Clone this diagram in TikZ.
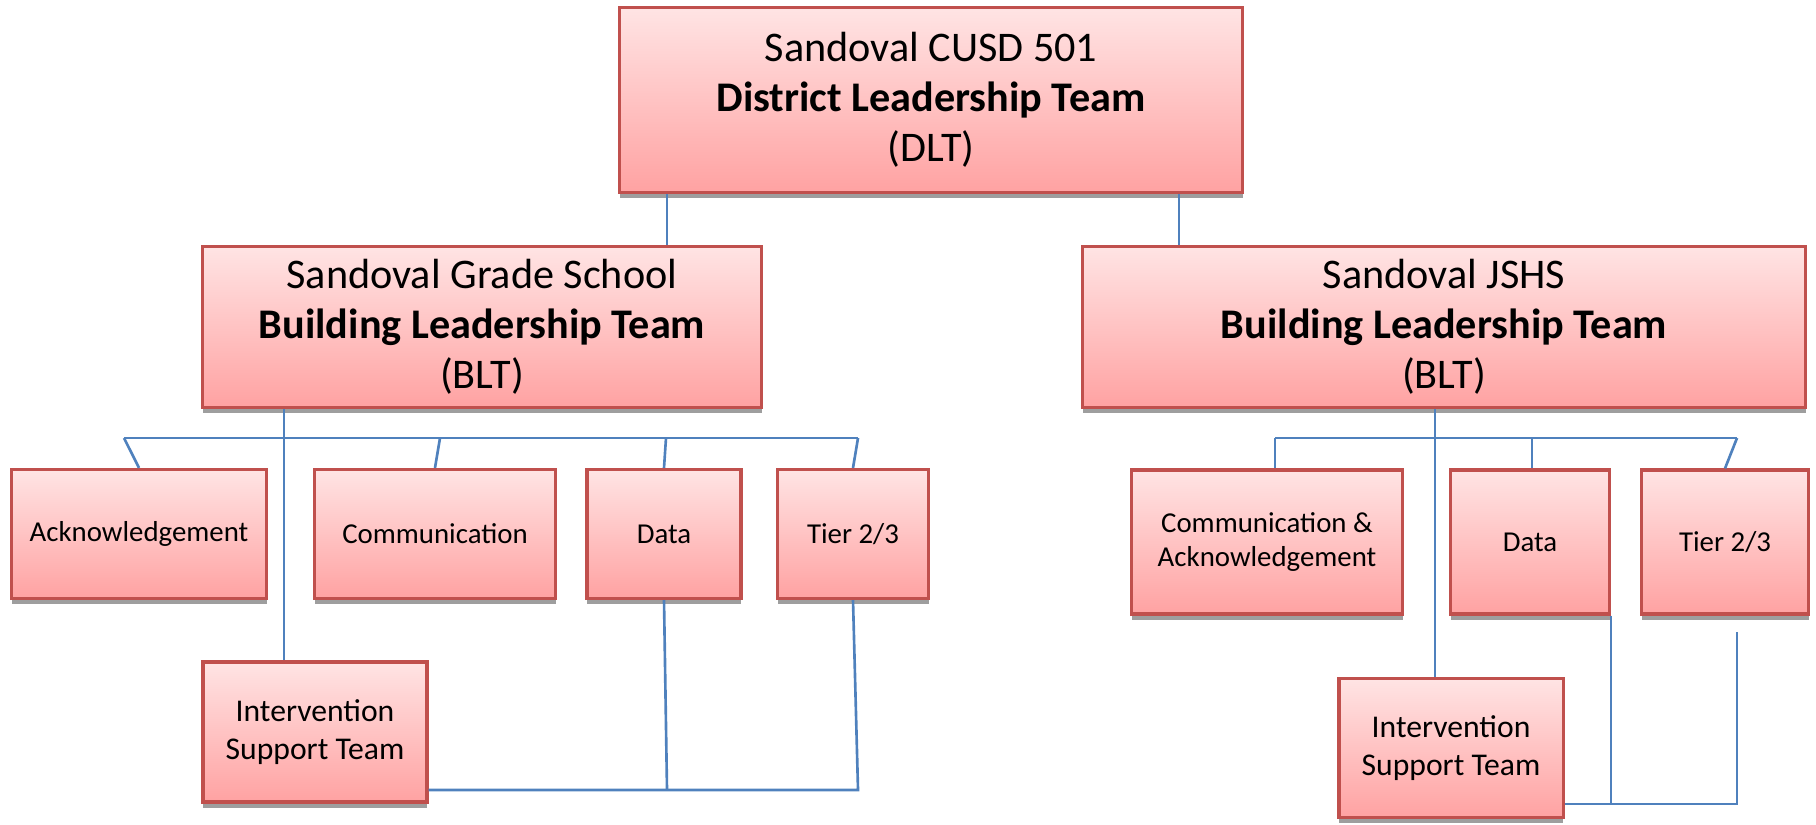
\documentclass[tikz,border=0pt]{standalone}
\usepackage{fontspec}
\setmainfont{Carlito}
\usetikzlibrary{shadows}
\definecolor{boxtop}{RGB}{255,228,228}
\definecolor{boxbot}{RGB}{255,162,162}
\definecolor{boxline}{RGB}{192,80,77}
\definecolor{linkblue}{RGB}{79,129,189}

\begin{document}
\begin{tikzpicture}[x=0.01cm,y=-0.01cm,
	team/.style={draw=boxline,line width=0.9pt,top color=boxtop,bottom color=boxbot,align=center,inner sep=0pt,
		drop shadow={shadow xshift=0.1pt,shadow yshift=-1.6pt,fill=black!38,opacity=1}},
	bigteam/.style={team,font=\fontsize{12}{14.2}\selectfont},
	smallteam/.style={team,font=\fontsize{8.2}{9.8}\selectfont},
	istteam/.style={team,font=\fontsize{9}{10.8}\selectfont},
	link/.style={draw=linkblue,line width=0.75pt}]
	\useasboundingbox (0,0) rectangle (1816,825);
	\node[bigteam,minimum width=6.23cm,minimum height=1.85cm] (dlt) at (931,100) {Sandoval CUSD 501\\\textbf{District Leadership Team}\\(DLT)};
	\node[bigteam,minimum width=5.59cm,minimum height=1.61cm] (gs) at (482,327) {Sandoval Grade School\\\textbf{Building Leadership Team}\\(BLT)};
	\node[bigteam,minimum width=7.23cm,minimum height=1.61cm] (jshs) at (1444,327) {Sandoval JSHS\\\textbf{Building Leadership Team}\\(BLT)};
	\node[smallteam,minimum width=2.55cm,minimum height=1.29cm] (ackA) at (139,534) {Acknowledgement};
	\node[smallteam,minimum width=2.41cm,minimum height=1.29cm] (commA) at (435,534) {Communication};
	\node[smallteam,minimum width=1.54cm,minimum height=1.29cm] (dataA) at (664,534) {Data};
	\node[smallteam,minimum width=1.51cm,minimum height=1.29cm] (tierA) at (853,534) {Tier 2/3};
	\node[istteam,minimum width=2.24cm,minimum height=1.40cm] (istA) at (315,732) {Intervention\\Support Team};
	\node[smallteam,minimum width=2.71cm,minimum height=1.44cm] (caB) at (1267,542) {Communication \&\\Acknowledgement};
	\node[smallteam,minimum width=1.59cm,minimum height=1.44cm] (dataB) at (1530,542) {Data};
	\node[smallteam,minimum width=1.67cm,minimum height=1.44cm] (tierB) at (1725,542) {Tier 2/3};
	\node[istteam,minimum width=2.24cm,minimum height=1.39cm] (istB) at (1451,748) {Intervention\\Support Team};
	\coordinate (ltapA) at (124,438);
	\coordinate (ltapB) at (440,438);
	\coordinate (ltapC) at (666,438);
	\coordinate (ltapD) at (858,438);
	\coordinate (lbotC) at (667,790);
	\coordinate (lbotD) at (858,790);
	\coordinate (rtapA) at (1275,438);
	\coordinate (rtapB) at (1532,438);
	\coordinate (rtapC) at (1737,438);
	\coordinate (rbotC) at (1737,804);
	\coordinate (rfreeC) at (1737,632);
	\draw[link] (dlt.south -| 667,0) -- (gs.north -| 667,0);
	\draw[link] (dlt.south -| 1179,0) -- (jshs.north -| 1179,0);
	\draw[link] (ltapA) -- (ltapD);
	\foreach \t/\n in {ltapA/ackA,ltapB/commA,ltapC/dataA,ltapD/tierA}
		\draw[link] (\t) -- (\n.north);
	\draw[link] (gs.south -| 284,0) -- (istA.north -| 284,0);
	\draw[link] (istA.east |- lbotC) -- (lbotD) -- (tierA.south);
	\draw[link] (dataA.south) -- (lbotC);
	\draw[link] (rtapA) -- (rtapC);
	\draw[link] (rtapA) -- (rtapA |- caB.north);
	\draw[link] (rtapB) -- (rtapB |- dataB.north);
	\draw[link] (rtapC) -- (tierB.north);
	\draw[link] (jshs.south -| 1435,0) -- (istB.north -| 1435,0);
	\draw[link] (istB.east |- rbotC) -- (rbotC) -- (rfreeC);
	\draw[link] (dataB.south east) -- (dataB.south east |- rbotC);
\end{tikzpicture}
\end{document}
